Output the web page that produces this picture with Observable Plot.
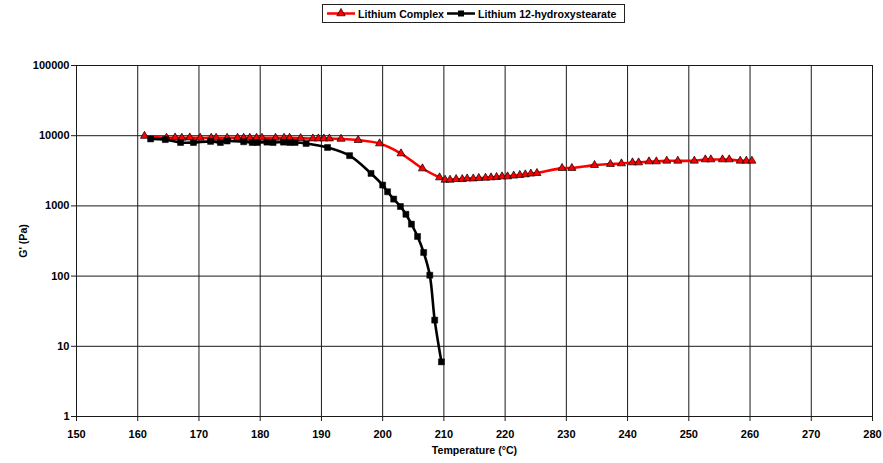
<!DOCTYPE html>
<html>
<head>
<meta charset="utf-8">
<script src="https://cdn.jsdelivr.net/npm/d3@7"></script>
<script src="https://cdn.jsdelivr.net/npm/@observablehq/plot@0.6"></script>
<style>
  body { margin: 0; background: #fff; }
  #wrap { position: relative; width: 883px; height: 463px; }
  #legend { position: absolute; left: 322px; top: 4px; width: 301px; height: 17px; border: 1px solid #222; background: #fff;
            font-family: "Liberation Sans", Arial, sans-serif; font-weight: bold; font-size: 10.6px; }
  .item { position: absolute; top: 0; height: 17px; display: flex; align-items: center; white-space: nowrap; }
  .item svg { margin-right: 3px; }
</style>
</head>
<body>
<div id="wrap">
  <div id="chart"></div>
  <div id="legend"></div>
</div>
<script>
// ---- data ----
const seriesNames = ["Lithium Complex", "Lithium 12-hydroxystearate"];

const complexT = [161.1, 164.7, 166.1, 167.2, 168.5, 170.2, 172.0, 172.8, 174.6, 176.3, 177.3, 178.3, 179.4, 180.3,
  182.5, 183.9, 184.8, 186.6, 188.6, 189.5, 190.4, 191.3, 193.2, 196.0, 199.5, 203.0, 206.5, 209.3, 210.2, 211.0,
  212.0, 213.0, 213.8, 214.8, 215.7, 216.8, 217.7, 218.6, 219.5, 220.4, 221.4, 222.4, 223.3, 224.2, 225.2,
  229.3, 230.9, 234.6, 237.2, 239.0, 240.8, 241.8, 243.5, 244.7, 246.4, 248.2, 250.9, 252.7, 253.6, 255.5,
  256.6, 258.4, 259.4, 260.3];
const complexG = [9900, 9300, 9400, 9300, 9400, 9300, 9300, 9300, 9300, 9300, 9300, 9300, 9300, 9300,
  9300, 9300, 9300, 9200, 9100, 9100, 9100, 9100, 9000, 8650, 7740, 5575, 3410, 2540, 2350, 2350,
  2400, 2400, 2450, 2450, 2490, 2510, 2540, 2570, 2620, 2620, 2690, 2750, 2800, 2870, 2930,
  3455, 3455, 3810, 3940, 4020, 4150, 4150, 4290, 4290, 4390, 4390, 4390, 4580, 4580, 4580,
  4580, 4390, 4390, 4390];

const hydroxyT = [162.1, 164.5, 167.0, 169.1, 171.9, 173.5, 174.6, 177.3, 178.7, 179.5, 181.1, 182.1, 183.8,
  184.8, 185.7, 187.5, 191.0, 194.6, 198.1, 200.0, 200.8, 201.8, 202.9, 203.8, 204.7, 205.7, 206.7, 207.7,
  208.5, 209.6];
const hydroxyG = [9000, 8800, 8000, 8000, 8300, 8000, 8400, 8200, 8000, 8000, 8100, 8000, 8100,
  8000, 8000, 7750, 6800, 5200, 2900, 1980, 1590, 1250, 980, 760, 550, 367, 217, 103,
  23.6, 6.0];

const xTicks = [150, 160, 170, 180, 190, 200, 210, 220, 230, 240, 250, 260, 270, 280];
const yTicks = [1, 10, 100, 1000, 10000, 100000];
const xTitle = "Temperature (°C)";
const yTitle = "G' (Pa)";

// ---- build ----
const complex = complexT.map((t, i) => ({t, g: complexG[i]}));
const hydroxy = hydroxyT.map((t, i) => ({t, g: hydroxyG[i]}));
const gridColor = "#1a1a1a";

const chart = Plot.plot({
  width: 883,
  height: 463,
  marginTop: 65,
  marginBottom: 47,
  marginLeft: 76,
  marginRight: 11,
  style: {fontFamily: "'Liberation Sans', Arial, sans-serif", fontSize: "11px", fontWeight: "bold", background: "#fff", color: "#000"},
  x: {domain: [150, 280]},
  y: {type: "log", domain: [1, 100000]},
  marks: [
    Plot.ruleX(xTicks.slice(1), {stroke: gridColor, strokeWidth: 1}),
    Plot.ruleY(yTicks.slice(1), {stroke: gridColor, strokeWidth: 1}),
    Plot.ruleX([xTicks[0]], {stroke: gridColor, strokeWidth: 1}),
    Plot.ruleY([yTicks[0]], {stroke: gridColor, strokeWidth: 1}),
    Plot.axisX({ticks: xTicks, tickSize: 5, tickPadding: 9, label: null, stroke: gridColor, fontWeight: "bold"}),
    Plot.axisY({ticks: yTicks, tickSize: 5, tickPadding: 2, label: null, tickFormat: d => String(d), stroke: gridColor, fontWeight: "bold"}),
    Plot.text([xTitle], {text: d => d, frameAnchor: "bottom", dy: 37, fontWeight: "bold", fontSize: 10.6}),
    Plot.text([yTitle], {text: d => d, frameAnchor: "left", dx: -53, rotate: -90, textAnchor: "middle", fontWeight: "bold", fontSize: 10.6}),
    Plot.line(complex, {x: "t", y: "g", stroke: "#ff0000", strokeWidth: 2.6, curve: "catmull-rom"}),
    Plot.dot(complex, {x: "t", y: "g", symbol: "triangle", r: 3, fill: "#ff0000", stroke: "#000", strokeWidth: 0.7}),
    Plot.line(hydroxy, {x: "t", y: "g", stroke: "#000", strokeWidth: 2.6, curve: "catmull-rom"}),
    Plot.dot(hydroxy, {x: "t", y: "g", symbol: "square", r: 3.4, fill: "#000", stroke: "#000", strokeWidth: 0.5})
  ]
});
document.getElementById("chart").appendChild(chart);

// ---- legend ----
const legend = document.getElementById("legend");
const swatches = [
  {color: "#ff0000", marker: '<path d="M14,3.5 L18.2,10.8 L9.8,10.8 Z" fill="#ff0000" stroke="#000" stroke-width="0.7"/>', left: 4},
  {color: "#000", marker: '<rect x="11" y="5.5" width="6" height="6" fill="#000"/>', left: 124}
];
seriesNames.forEach((name, i) => {
  const s = swatches[i];
  const item = document.createElement("div");
  item.className = "item";
  item.style.left = s.left + "px";
  item.innerHTML = `<svg width="28" height="17"><line x1="0" x2="28" y1="8.5" y2="8.5" stroke="${s.color}" stroke-width="2.5"/>${s.marker}</svg><span>${name}</span>`;
  legend.appendChild(item);
});
</script>
</body>
</html>
